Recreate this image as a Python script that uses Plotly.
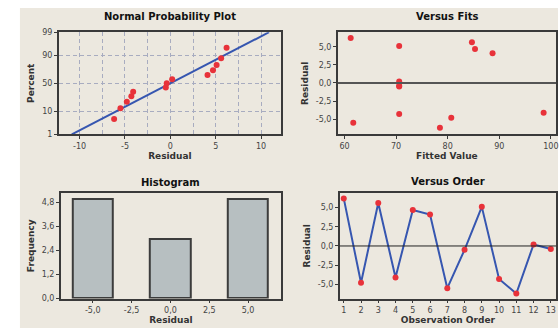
import statistics
from statistics import NormalDist
import plotly.graph_objects as go

# Residuals in observation order and their fitted values
observation = list(range(1, 14))
residuals = [6.2, -4.8, 5.6, -4.1, 4.7, 4.1, -5.5, -0.5, 5.1, -4.3, -6.2, 0.2, -0.4]
fitted = [61.2, 80.7, 84.7, 98.6, 85.3, 88.7, 61.7, 70.6, 70.6, 70.6, 78.5, 70.6, 70.6]

# Histogram bins (centres) and counts
hist_centers = [-5.0, 0.0, 5.0]
hist_counts = [5, 3, 5]

# Tick labels
pct_ticks = [1, 10, 50, 90, 99]
resid_ticks = [-10, -5, 0, 5, 10]
fit_ticks = [60, 70, 80, 90, 100]
res_ticks = [-5.0, -2.5, 0.0, 2.5, 5.0]
freq_ticks = [0.0, 1.2, 2.4, 3.6, 4.8]

RED = "#e8323a"
BLUE = "#3656b0"
FRAME = "#3a3a3a"
GRID = "#a8acc0"
FONT = "DejaVu Sans"
nd = NormalDist()


def fmt(v, dec=1):
    return f"{v:.{dec}f}".replace(".", ",")


# Normal probability positions (median ranks)
n = len(residuals)
sorted_res = sorted(residuals)
z_pos = [nd.inv_cdf((i + 1 - 0.3) / (n + 0.4)) for i in range(n)]
mu = statistics.mean(residuals)
sd = statistics.stdev(residuals)
z_lo, z_hi = nd.inv_cdf(0.01), nd.inv_cdf(0.99)
line_z = [z_lo, z_hi]
line_x = [mu + sd * z for z in line_z]

fig = go.Figure()

# Normal probability plot
fig.add_trace(go.Scatter(x=line_x, y=line_z, mode="lines", line=dict(color=BLUE, width=2),
                         xaxis="x", yaxis="y", showlegend=False))
fig.add_trace(go.Scatter(x=sorted_res, y=z_pos, mode="markers",
                         marker=dict(color=RED, size=6), xaxis="x", yaxis="y", showlegend=False))

# Versus fits
fig.add_trace(go.Scatter(x=fitted, y=residuals, mode="markers",
                         marker=dict(color=RED, size=6), xaxis="x2", yaxis="y2", showlegend=False))

# Histogram
fig.add_trace(go.Bar(x=hist_centers, y=hist_counts, width=2.6,
                     marker=dict(color="#b7bfc1", line=dict(color="#3c3c3c", width=2)),
                     xaxis="x3", yaxis="y3", showlegend=False))

# Versus order
fig.add_trace(go.Scatter(x=observation, y=residuals, mode="lines+markers",
                         line=dict(color=BLUE, width=2),
                         marker=dict(color=RED, size=6), xaxis="x4", yaxis="y4", showlegend=False))

tickfont = dict(family=FONT, size=8, color="#444444")
titlefont = dict(family=FONT, size=9, color="#333333", weight="bold")


def axis(domain, anchor, rng, tickvals, ticktext, title, standoff, **kw):
    d = dict(domain=domain, anchor=anchor, range=rng, tickvals=tickvals, ticktext=ticktext,
             showline=True, linecolor=FRAME, linewidth=1.5, mirror=True,
             ticks="outside", ticklen=3, tickcolor=FRAME, tickfont=tickfont,
             showgrid=False, zeroline=False, fixedrange=True, ticklabeloverflow="allow",
             title=dict(text=title, font=titlefont, standoff=standoff))
    d.update(kw)
    return d


W, H = 560, 333
top_y = [1 - 134 / H, 1 - 29 / H]
bot_y = [1 - 302.7 / H, 1 - 194.3 / H]

grid = dict(showgrid=True, gridcolor=GRID, griddash="4px,3px", gridwidth=1)

fig.update_layout(
    width=W, height=H, margin=dict(l=0, r=0, t=0, b=0),
    paper_bgcolor="white", plot_bgcolor="white",
    separators=",.",
    xaxis=axis([59 / W, 282 / W], "y", [-12.3, 12.2], resid_ticks,
               [str(v) for v in resid_ticks], "Residual", 2,
               minor=dict(dtick=2.5, tick0=0, showgrid=True, gridcolor=GRID,
                          griddash="4px,3px", ticks=""), **grid),
    yaxis=axis(top_y, "x", [z_lo, z_hi], [nd.inv_cdf(p / 100) for p in pct_ticks],
               [str(p) for p in pct_ticks], "Percent", 6, **grid),
    xaxis2=axis([339 / W, 558 / W], "y2", [58.7, 101], fit_ticks,
                [str(v) for v in fit_ticks], "Fitted Value", 2),
    yaxis2=axis(top_y, "x2", [-7.1, 7.0], res_ticks,
                [fmt(v) for v in res_ticks], "Residual", 6),
    xaxis3=axis([61 / W, 282 / W], "y3", [-7.06, 7.12], res_ticks,
                [fmt(v) for v in res_ticks], "Residual", 2),
    yaxis3=axis(bot_y, "x3", [0, 5.28], freq_ticks,
                [fmt(v) for v in freq_ticks], "Frequency", 6),
    xaxis4=axis([341 / W, 558 / W], "y4", [0.77, 13.3], observation,
                [str(v) for v in observation], "Observation Order", 2),
    yaxis4=axis(bot_y, "x4", [-6.85, 6.9], res_ticks,
                [fmt(v) for v in res_ticks], "Residual", 6),
    bargap=0,
)

# Panel background
fig.add_shape(type="rect", xref="paper", yref="paper", x0=20 / W, x1=1, y0=0, y1=1 - 4 / H,
              fillcolor="#ece8df", line=dict(width=0), layer="below")

# Reference lines at zero residual
fig.add_shape(type="line", xref="x2 domain", yref="y2", x0=0, x1=1, y0=0, y1=0,
              line=dict(color="#555555", width=2))
fig.add_shape(type="line", xref="x4 domain", yref="y4", x0=0, x1=1, y0=0, y1=0,
              line=dict(color="#222222", width=1))

# Panel titles
titles = [("Normal Probability Plot", 170.5, 13), ("Versus Fits", 448.5, 13),
          ("Histogram", 171.5, 183), ("Versus Order", 449.5, 182)]
for text, px, py in titles:
    fig.add_annotation(text=f"<b>{text}</b>", x=px / W, y=1 - py / H, xref="paper", yref="paper",
                       showarrow=False, xanchor="center", yanchor="middle",
                       font=dict(family=FONT, size=10, color="#111111"))

fig.write_html("out.html")
